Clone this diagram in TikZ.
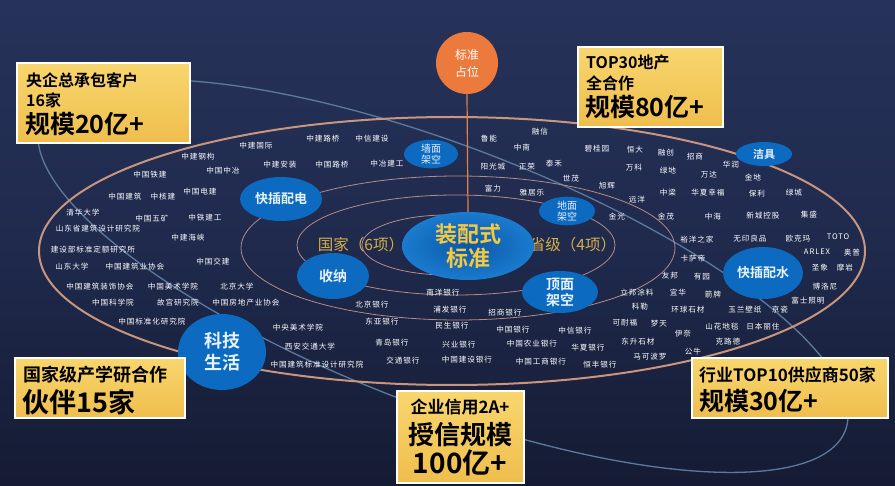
\documentclass[tikz,border=0pt]{standalone}
\usepackage{fontspec}
\usetikzlibrary{shapes.geometric}
\newfontfamily\cjk{Noto Sans CJK SC}[BoldFont={Noto Sans CJK SC Bold}]
\newfontfamily\cjksmall{Noto Sans CJK SC}[LetterSpace=12]
\definecolor{bgtop}{HTML}{27325A}
\definecolor{bgmid}{HTML}{1F2A4D}
\definecolor{bgbot}{HTML}{151B33}
\definecolor{tanline}{HTML}{C9957D}
\definecolor{tanthin}{HTML}{B28C86}
\definecolor{steel}{HTML}{5B7A9D}
\definecolor{bubblue}{HTML}{0C6AC0}
\definecolor{blobin}{HTML}{0B58A6}
\definecolor{blobout}{HTML}{1A7BCF}
\definecolor{goldtxt}{HTML}{F5C842}
\definecolor{goldlbl}{HTML}{D6AE4A}
\definecolor{orangec}{HTML}{EC7A3C}
\definecolor{ytop}{HTML}{F8D66E}
\definecolor{ybot}{HTML}{EFBE4D}
\definecolor{bubtxt}{HTML}{E6F2FF}
\begin{document}
\begin{tikzpicture}[x=1pt,y=-1pt,
  lbl/.style={text=white, font=\cjksmall\fontsize{7.6}{9}\selectfont, inner sep=0pt},
  bubble/.style={ellipse, fill=bubblue, draw=none, inner sep=0pt, text=bubtxt, align=center},
  ybox/.style={rectangle, top color=ytop, bottom color=ybot, draw=white, line width=2.4pt, inner sep=0pt},
  boxtxt/.style={inner sep=0pt, text=black, anchor=west},
  orbit/.style={draw=tanthin, line width=0.8pt},
]
\shade[top color=bgtop, bottom color=bgbot, middle color=bgmid] (0,0) rectangle (895,486);
\useasboundingbox (0,0) rectangle (895,486);

% steel tilted ellipse
\draw[steel, line width=1.3pt] plot[domain=0:360, samples=144, smooth]
  ({443+431*cos(\x)*cos(21)-130*sin(\x)*sin(21)}, {276+431*cos(\x)*sin(21)+130*sin(\x)*cos(21)});

% orbits
\draw[tanline, line width=2pt] (452,251) ellipse [x radius=413, y radius=134];
\draw[orbit] (458,248) ellipse [x radius=217, y radius=72];
\draw[orbit] (456,245) ellipse [x radius=159, y radius=50];
\draw[orbit] (447,245) ellipse [x radius=85, y radius=30];

% labels of rings
\node[inner sep=0pt, text=goldlbl, font=\cjk\fontsize{15.5}{17}\selectfont] (guojia) at (361,245) {国家（6项）};
\node[inner sep=0pt, text=goldlbl, font=\cjk\fontsize{15.5}{17}\selectfont] (shengji) at (573,245) {省级（4项）};

% top circle and centre
\node[circle, fill=orangec, minimum size=62pt, inner sep=0pt, text=white, align=center,
      font=\cjk\fontsize{12}{17}\selectfont] (top) at (467,63) {标准\\占位};
\node[ellipse, inner color=blobin, outer color=blobout, minimum width=132pt, minimum height=68pt,
      inner sep=0pt, text=goldtxt, align=center, font=\cjk\bfseries\fontsize{22}{24}\selectfont] (core) at (468,246) {装配式\\标准};
\draw[orangec!80!tanline, line width=1.2pt] (top.south) -- (core.north);

% bubbles
\node[bubble, minimum width=82pt, minimum height=44pt, font=\cjk\bfseries\fontsize{13}{15}\selectfont] (kcpd) at (281,199) {快插配电};
\node[bubble, minimum width=54pt, minimum height=26pt, font=\cjk\fontsize{10}{11}\selectfont] (qmjk) at (431,154) {墙面\\架空};
\node[bubble, minimum width=56pt, minimum height=28pt, font=\cjk\fontsize{10}{11}\selectfont] (dmjk) at (567,211) {地面\\架空};
\node[bubble, minimum width=72pt, minimum height=46pt, font=\cjk\bfseries\fontsize{14}{16}\selectfont] (shouna) at (333,276) {收纳};
\node[bubble, minimum width=76pt, minimum height=42pt, font=\cjk\bfseries\fontsize{14}{16}\selectfont] (dingmian) at (560,292) {顶面\\架空};
\node[bubble, minimum width=56pt, minimum height=24pt, font=\cjk\bfseries\fontsize{11}{12}\selectfont] (jieju) at (764,154) {洁具};
\node[bubble, minimum width=80pt, minimum height=52pt, font=\cjk\bfseries\fontsize{13}{15}\selectfont] (kcps) at (763,273) {快插配水};
\node[bubble, minimum width=88pt, minimum height=76pt, font=\cjk\bfseries\fontsize{18}{22}\selectfont] (keji) at (222,352) {科技\\生活};

% small labels
\foreach \x/\y/\t [count=\i] in {
 198/157/中建钢构, 223/171/中国中冶, 150/175/中国铁建, 125/197/中国建筑, 163/197/中核建,
 200/192/中国电建, 83/213/清华大学, 152/219/中国五矿, 205/218/中铁建工, 98/229/山东省建筑设计研究院,
 188/238/中建海峡, 93/250/建设部标准定额研究所, 72/267/山东大学, 135/267/中国建筑业协会, 213/262/中国交建,
 100/287/中国建筑装饰协会, 173/287/中国美术学院, 237/287/北京大学, 113/303/中国科学院, 178/303/故宫研究院,
 246/303/中国房地产业协会, 152/322/中国标准化研究院, 256/146/中建国际, 323/139/中建路桥, 372/139/中信建设,
 280/165/中建安装, 332/165/中国路桥, 387/164/中冶建工,
 489/139/鲁能, 540/132/融信, 522/148/中南, 597/149/碧桂园, 635/150/恒大, 493/167/阳光城, 527/167/正荣,
 554/164/泰禾, 634/168/万科, 571/179/世茂, 607/186/旭辉, 493/189/富力, 532/193/雅居乐, 637/200/远洋, 617/217/金光,
 666/153/融创, 695/157/招商, 731/165/华润, 668/171/绿地, 709/175/万达, 753/177/金地, 668/193/中梁,
 708/193/华夏幸福, 757/194/保利, 794/193/绿城, 666/217/金茂, 713/217/中海, 763/216/新城控股, 809/215/集盛,
 697/240/裕洋之家, 750/239/无印良品, 798/239/欧克玛, 838/237/TOTO, 817/252/ARLEX, 852/253/奥普,
 693/259/卡萨帝, 670/276/友邦, 702/277/有园, 820/268/圣象, 845/268/摩岩, 825/287/博洛尼,
 678/293/宜华, 713/295/箭牌, 808/301/富士照明, 637/293/立邦涂料, 640/307/科勒, 688/310/环球石材,
 745/310/玉兰壁纸, 780/310/京瓷, 625/323/可耐福, 659/324/梦天, 722/327/山花地毯, 763/327/日本丽住,
 683/334/伊奈, 728/342/克路德, 638/342/东升石材, 650/357/马可波罗, 693/352/公牛,
 443/293/南洋银行, 372/305/北京银行, 450/310/浦发银行, 382/322/东亚银行, 452/326/民生银行,
 505/313/招商银行, 513/330/中国银行, 575/331/中信银行, 532/344/中国农业银行, 588/348/华夏银行,
 541/362/中国工商银行, 600/365/恒丰银行, 392/343/青岛银行, 459/345/兴业银行, 403/361/交通银行,
 467/360/中国建设银行, 298/328/中央美术学院, 310/347/西安交通大学, 317/365/中国建筑标准设计研究院}
 { \node[lbl] (s\i) at (\x,\y) {\t}; }

% yellow boxes
\node[ybox, minimum width=173pt, minimum height=80pt] (b1) at (103.5,103) {};
\node[boxtxt, font=\cjk\bfseries\fontsize{16}{18}\selectfont] (b1a) at (26,80) {央企总承包客户};
\node[boxtxt, font=\cjk\bfseries\fontsize{16}{18}\selectfont] (b1b) at (26,100) {16家};
\node[boxtxt, font=\cjk\bfseries\fontsize{25}{27}\selectfont] (b1c) at (25,124) {规模20亿+};

\node[ybox, minimum width=145pt, minimum height=80pt] (b2) at (650.5,87) {};
\node[boxtxt, font=\cjk\bfseries\fontsize{16}{18}\selectfont] (b2a) at (586,62) {TOP30地产};
\node[boxtxt, font=\cjk\bfseries\fontsize{16}{18}\selectfont] (b2b) at (586,83) {全合作};
\node[boxtxt, font=\cjk\bfseries\fontsize{25}{27}\selectfont] (b2c) at (585,107) {规模80亿+};

\node[ybox, minimum width=170pt, minimum height=60pt] (b3) at (100,388) {};
\node[boxtxt, font=\cjk\bfseries\fontsize{18}{20}\selectfont] (b3a) at (23,375) {国家级产学研合作};
\node[boxtxt, font=\cjk\bfseries\fontsize{27}{29}\selectfont] (b3b) at (22,402) {伙伴15家};

\node[ybox, minimum width=127pt, minimum height=92pt] (b4) at (460.5,437) {};
\node[inner sep=0pt, font=\cjk\bfseries\fontsize{17}{19}\selectfont] (b4a) at (460,407) {企业信用2A+};
\node[inner sep=0pt, font=\cjk\bfseries\fontsize{26}{28}\selectfont] (b4b) at (460,435) {授信规模};
\node[inner sep=0pt, font=\cjk\bfseries\fontsize{28}{30}\selectfont] (b4c) at (460,463) {100亿+};

\node[ybox, minimum width=196pt, minimum height=60pt] (b5) at (790,388) {};
\node[boxtxt, font=\cjk\bfseries\fontsize{17}{19}\selectfont] (b5a) at (699,375) {行业TOP10供应商50家};
\node[boxtxt, font=\cjk\bfseries\fontsize{25}{27}\selectfont] (b5b) at (699,401) {规模30亿+};
\end{tikzpicture}
\end{document}
